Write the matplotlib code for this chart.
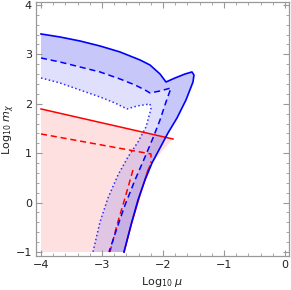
import numpy as np
import matplotlib
matplotlib.use("Agg")
import matplotlib.pyplot as plt
from matplotlib.ticker import MultipleLocator

# contornos (Log10 mu, Log10 m_chi)
azul_solido_x = [-4.0, -3.689, -3.361, -3.033, -2.705, -2.377, -2.213, -2.049, -1.951,
                 -1.803, -1.639, -1.525, -1.492, -1.508, -1.623, -1.770, -1.918, -2.049,
                 -2.180, -2.295, -2.410, -2.525, -2.639]
azul_solido_y = [3.413, 3.352, 3.271, 3.170, 3.049, 2.887, 2.785, 2.603, 2.441,
                 2.522, 2.603, 2.644, 2.583, 2.441, 2.077, 1.713, 1.409, 1.105,
                 0.802, 0.457, 0.053, -0.453, -1.0]

azul_guion_x = [-4.0, -3.689, -3.361, -3.033, -2.705, -2.459, -2.295, -2.213, -2.049,
                -1.869, -1.951, -2.049, -2.164, -2.295, -2.459, -2.623, -2.754, -2.885]
azul_guion_y = [2.927, 2.846, 2.745, 2.644, 2.502, 2.381, 2.279, 2.219, 2.259,
                2.320, 2.036, 1.672, 1.308, 0.923, 0.457, -0.049, -0.514, -1.0]

azul_punto_x = [-4.0, -3.689, -3.361, -3.033, -2.787, -2.590, -2.426, -2.213, -2.197,
                -2.279, -2.410, -2.574, -2.738, -2.902, -3.033, -3.148]
azul_punto_y = [2.522, 2.421, 2.279, 2.138, 2.016, 1.895, 1.955, 1.996, 1.895,
                1.530, 1.227, 0.923, 0.559, 0.093, -0.393, -1.0]

rojo_region_x = [-4.0, -1.836, -2.180, -2.246, -2.377, -2.508, -2.639, -4.0]
rojo_region_y = [1.895, 1.287, 0.802, 0.660, 0.154, -0.393, -1.0, -1.0]

rojo_solido_x = [-4.0, -1.836, np.nan, -2.213, -2.246, -2.377, -2.508, -2.639]
rojo_solido_y = [1.895, 1.287, np.nan, 0.741, 0.660, 0.154, -0.393, -1.0]

rojo_guion_x = [-4.0, -2.197, -2.197, np.nan, -2.492, -2.623, -2.754, -2.869]
rojo_guion_y = [1.389, 0.984, 0.802, np.nan, 0.660, 0.093, -0.453, -1.0]

fig = plt.figure(figsize=(2.91, 2.90), dpi=100)
ax = fig.add_axes([36 / 291, 1 - 256 / 290, 253 / 291, 254 / 290])

# region roja
ax.fill(rojo_region_x, rojo_region_y, color="#ff0000", alpha=0.12, lw=0)

# bandas azules
banda_x = azul_solido_x + azul_guion_x[::-1]
banda_y = azul_solido_y + azul_guion_y[::-1]
ax.fill(banda_x, banda_y, color="#3333ee", alpha=0.27, lw=0)
banda2_x = azul_guion_x + azul_punto_x[::-1]
banda2_y = azul_guion_y + azul_punto_y[::-1]
ax.fill(banda2_x, banda2_y, color="#3333ee", alpha=0.15, lw=0)

ax.plot(rojo_solido_x, rojo_solido_y, color="red", lw=1.1)
ax.plot(rojo_guion_x, rojo_guion_y, color="red", lw=1.1, dashes=(4, 2.5))
ax.plot(azul_solido_x, azul_solido_y, color="blue", lw=1.2)
ax.plot(azul_guion_x, azul_guion_y, color="blue", lw=1.1, dashes=(4, 2.5))
ax.plot(azul_punto_x, azul_punto_y, color="#3030ff", lw=1.1, dashes=(1, 1.6))

ax.set_xlim(-4.082, 0.066)
ax.set_ylim(-1.081, 4.06)
ax.xaxis.set_major_locator(MultipleLocator(1))
ax.xaxis.set_minor_locator(MultipleLocator(0.2))
ax.yaxis.set_major_locator(MultipleLocator(1))
ax.yaxis.set_minor_locator(MultipleLocator(0.2))
ax.tick_params(which="both", direction="in", top=True, right=True,
               color="#999999", labelsize=8, labelcolor="#222222", pad=3)
ax.tick_params(which="major", length=4, width=0.8)
ax.tick_params(which="minor", length=2, width=0.6)
for s in ax.spines.values():
    s.set_color("#999999")
    s.set_linewidth(0.9)

ax.set_xlabel(r"Log$_{10}$ $\mu$", fontsize=8, color="#222222")
ax.set_ylabel(r"Log$_{10}$ $m_\chi$", fontsize=8, color="#222222")
ax.xaxis.set_label_coords(0.5, -0.075)
ax.yaxis.set_label_coords(-0.075, 0.5)

fig.savefig("out.png", dpi=100)
